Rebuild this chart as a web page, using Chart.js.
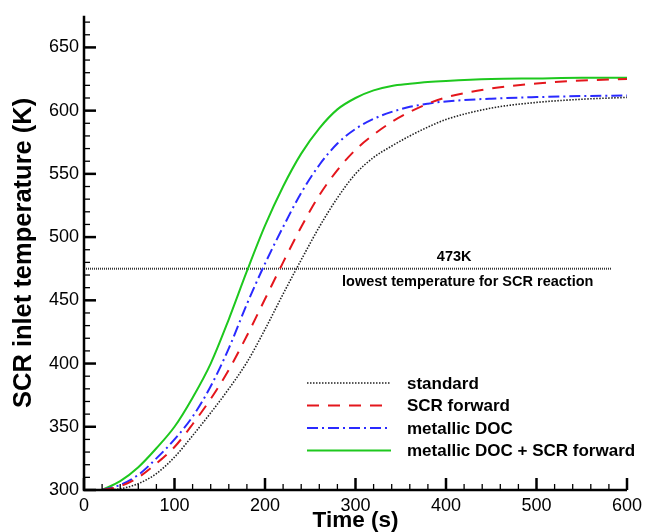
<!DOCTYPE html>
<html>
<head>
<meta charset="utf-8">
<script src="https://cdn.jsdelivr.net/npm/chart.js@4.4.1/dist/chart.umd.min.js"></script>
<style>
  html, body { margin: 0; padding: 0; background: #fff; }
  #wrap { width: 654px; height: 532px; position: relative; }
</style>
</head>
<body>
<div id="wrap"><canvas id="c" width="654" height="532"></canvas></div>
<script>
// ---- data ----
const time = [20,40,60,80,100,120,140,160,180,200,220,240,260,280,300,320,340,360,380,400,450,500,550,600];
const standard        = [300,301,305,313,326,343,361,380,401,427,455,482,508,531,550,563,572,580,587,593,602,606.5,609,610.5];
const scrForward      = [300,303,310,321,334,352,372,395,422,451,480,508,533,553,569,581,591,599,605.5,610.5,617.5,621.5,623.8,625];
const metallicDOC     = [300,304,312,325,340,358,382,412,447,479,508,535,557,574,585.5,593.5,599,603,605.5,607.3,609.5,610.7,611.5,612];
const metallicDOCscr  = [300,307,318,333,350,373,400,435,473,509,540,566,586,601,610,616,619.5,621.2,622.6,623.5,625,625.5,626,626];
const seriesNames = ['standard','SCR forward','metallic DOC','metallic DOC + SCR forward'];
const thresholdX = [0, 583];
const thresholdValue = 475;
const thresholdLabel = '473K';
const thresholdNote = 'lowest temperature for SCR reaction';
const xTicks = [0,100,200,300,400,500,600];
const yTicks = [300,350,400,450,500,550,600,650];
const xTitle = 'Time (s)';
const yTitle = 'SCR inlet temperature (K)';

const FONT = '"Liberation Sans", Arial, Helvetica, sans-serif';
const pts = arr => time.map((t, i) => ({x: t, y: arr[i]}));

const datasets = [
  {label: seriesNames[0], data: pts(standard), borderColor: '#222222', borderWidth: 1.6, borderDash: [1.5, 1.5]},
  {label: seriesNames[1], data: pts(scrForward), borderColor: '#e4161c', borderWidth: 2, borderDash: [12, 9]},
  {label: seriesNames[2], data: pts(metallicDOC), borderColor: '#2a2aff', borderWidth: 2, borderDash: [11, 4, 2, 4]},
  {label: seriesNames[3], data: pts(metallicDOCscr), borderColor: '#1ec81e', borderWidth: 2, borderDash: []},
  {label: '_threshold', data: thresholdX.map(x => ({x, y: thresholdValue})), borderColor: '#333333', borderWidth: 2, borderDash: [1, 1], cubicInterpolationMode: 'default', tension: 0}
].map(d => Object.assign({pointRadius: 0, fill: false, cubicInterpolationMode: 'monotone'}, d));

const decor = {
  id: 'decor',
  afterDraw(chart) {
    const ctx = chart.ctx;
    const xs = chart.scales.x, ys = chart.scales.y;
    const L = chart.chartArea.left, B = chart.chartArea.bottom, T = chart.chartArea.top, R = chart.chartArea.right;
    ctx.save();
    ctx.strokeStyle = '#000';
    // axis lines
    ctx.lineWidth = 2.5;
    ctx.beginPath();
    ctx.moveTo(L, T); ctx.lineTo(L, B); ctx.lineTo(R, B);
    ctx.stroke();
    // inward ticks
    for (let v = 300; v <= 670; v += 10) {
      const y = ys.getPixelForValue(v);
      const major = v % 50 === 0;
      ctx.lineWidth = major ? 2.5 : 1.3;
      ctx.beginPath(); ctx.moveTo(L, y); ctx.lineTo(L + (major ? 12 : 6), y); ctx.stroke();
    }
    for (let v = 0; v <= 600; v += 20) {
      const x = xs.getPixelForValue(v);
      const major = v % 100 === 0;
      ctx.lineWidth = major ? 2.5 : 1.3;
      ctx.beginPath(); ctx.moveTo(x, B); ctx.lineTo(x, B - (major ? 12 : 6)); ctx.stroke();
    }
    // threshold annotation text
    const ty = ys.getPixelForValue(thresholdValue);
    ctx.fillStyle = '#000';
    ctx.textAlign = 'center';
    ctx.textBaseline = 'middle';
    ctx.font = 'bold 14.5px ' + FONT;
    ctx.fillText(thresholdLabel, xs.getPixelForValue(409), ty - 12);
    ctx.fillText(thresholdNote, xs.getPixelForValue(424), ty + 13);
    // legend
    const rows = [383, 405.5, 428, 450.5];
    ctx.font = 'bold 17px ' + FONT;
    ctx.textAlign = 'left';
    chart.data.datasets.slice(0, 4).forEach((ds, i) => {
      const y = rows[i];
      ctx.strokeStyle = ds.borderColor;
      ctx.lineWidth = ds.borderWidth;
      ctx.setLineDash(ds.borderDash || []);
      ctx.beginPath(); ctx.moveTo(307, y); ctx.lineTo(391, y); ctx.stroke();
      ctx.setLineDash([]);
      ctx.fillStyle = '#000';
      ctx.fillText(ds.label, 407, y + 1);
    });
    ctx.restore();
  }
};

new Chart(document.getElementById('c'), {
  type: 'line',
  data: {datasets},
  options: {
    responsive: false,
    animation: false,
    layout: {padding: {top: 14, right: 27, left: 0, bottom: 0}},
    plugins: {legend: {display: false}, tooltip: {enabled: false}},
    scales: {
      x: {
        type: 'linear', min: 0, max: 600,
        afterBuildTicks: s => { s.ticks = xTicks.map(v => ({value: v})); },
        afterFit: s => { s.height = 42; },
        grid: {display: false, drawTicks: false}, border: {display: false},
        ticks: {color: '#000', padding: 5, maxRotation: 0, autoSkip: false, font: {family: FONT, size: 18}},
        title: {display: true, text: xTitle, color: '#000', padding: 0, font: {family: FONT, size: 22.5, weight: 'bold', lineHeight: 1}}
      },
      y: {
        type: 'linear', min: 300, max: 675,
        afterBuildTicks: s => { s.ticks = yTicks.map(v => ({value: v})); },
        afterFit: s => { s.width = 84; },
        grid: {display: false, drawTicks: false}, border: {display: false},
        ticks: {color: '#000', padding: 5, autoSkip: false, font: {family: FONT, size: 18}},
        title: {display: true, text: yTitle, color: '#000', padding: {top: 9, bottom: 0}, font: {family: FONT, size: 25.5, weight: 'bold'}}
      }
    }
  },
  plugins: [decor]
});
</script>
</body>
</html>
